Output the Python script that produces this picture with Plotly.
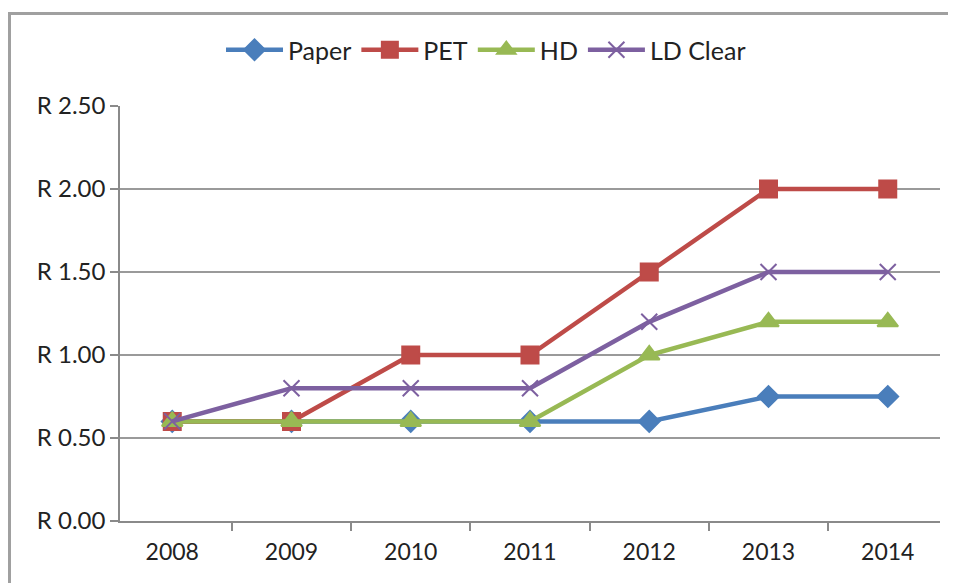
import plotly.graph_objects as go

years = ["2008", "2009", "2010", "2011", "2012", "2013", "2014"]
paper = [0.60, 0.60, 0.60, 0.60, 0.60, 0.75, 0.75]
pet = [0.60, 0.60, 1.00, 1.00, 1.50, 2.00, 2.00]
hd = [0.60, 0.60, 0.60, 0.60, 1.00, 1.20, 1.20]
ld_clear = [0.60, 0.80, 0.80, 0.80, 1.20, 1.50, 1.50]
y_ticks = [0, 0.5, 1.0, 1.5, 2.0, 2.5]
y_labels = ["R 0.00", "R 0.50", "R 1.00", "R 1.50", "R 2.00", "R 2.50"]

series = [
    ("Paper", paper, "#4A7EBB", "diamond", 16),
    ("PET", pet, "#BE4B48", "square", 17),
    ("HD", hd, "#98B954", "triangle-up", 18),
    ("LD Clear", ld_clear, "#7D60A0", "x-thin-open", 16),
]

fig = go.Figure()
for name, vals, color, sym, size in series:
    fig.add_trace(go.Scatter(
        x=years, y=vals, name=name, mode="lines+markers",
        line=dict(color=color, width=4.5),
        marker=dict(symbol=sym, size=size, color=color,
                    line=dict(color=color, width=2)),
    ))

# page body has an 8px margin, so the figure is laid out shifted by -8px
L, T, R, B = 112, 98, 24, 70
PW, PH = 956 - L - R, 583 - T - B

fig.update_layout(
    width=956, height=583,
    margin=dict(l=L, r=R, t=T, b=B, autoexpand=False),
    paper_bgcolor="white", plot_bgcolor="white",
    font=dict(family="Lato, Open Sans, sans-serif", size=23, color="#222"),
    showlegend=True,
    legend=dict(orientation="h", x=(213 - L) / PW, xanchor="left",
                y=1 + (T - 42) / PH, yanchor="middle",
                bgcolor="rgba(0,0,0,0)", itemwidth=57,
                font=dict(size=25, color="#222"), traceorder="normal"),
    xaxis=dict(type="category", showgrid=False, showline=True, linecolor="#8a8a8a",
               linewidth=1.5, ticks="outside", tickson="boundaries", ticklen=8,
               tickcolor="#8a8a8a", tickwidth=1.5, ticklabelstandoff=10),
    yaxis=dict(range=[0, 2.5], tickvals=y_ticks, ticktext=y_labels,
               showgrid=True, gridcolor="#9a9a9a", gridwidth=1.5,
               showline=True, linecolor="#8a8a8a", linewidth=1.5,
               ticks="outside", ticklen=8, tickcolor="#8a8a8a", tickwidth=1.5,
               zeroline=False, tickfont=dict(size=24)),
    shapes=[dict(type="rect", xref="paper", yref="paper",
                 x0=(1.5 - L) / PW, x1=1.1, y0=-0.4, y1=1 + (T - 5.5) / PH,
                 line=dict(color="#a0a0a0", width=3), fillcolor="rgba(0,0,0,0)")],
)

fig.write_html("out.html")
